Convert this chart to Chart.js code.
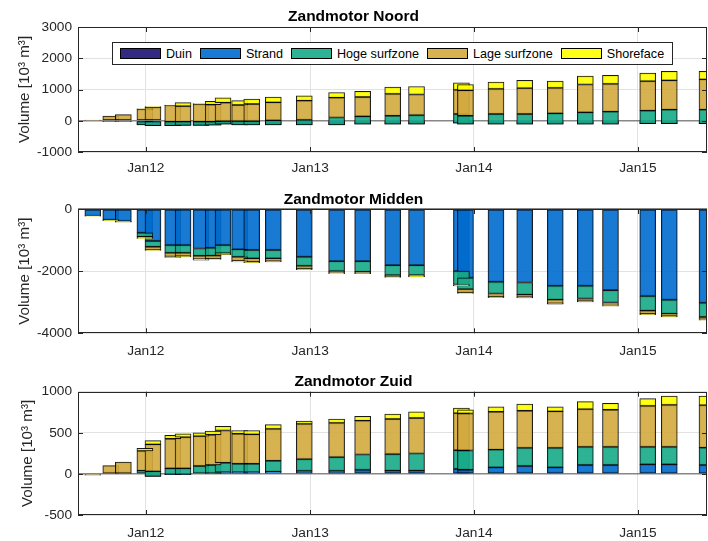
<!DOCTYPE html>
<html>
<head>
<meta charset="utf-8">
<script src="https://cdn.jsdelivr.net/npm/chart.js@4.4.1/dist/chart.umd.min.js"></script>
<style>
html,body{margin:0;padding:0;background:#fff;}
#wrap{position:relative;width:708px;height:541px;overflow:hidden;font-family:"Liberation Sans",Arial,Helvetica,sans-serif;}
.panel{position:absolute;left:0;}
#legend{position:absolute;left:112px;top:42px;width:561px;height:23px;box-sizing:border-box;border:1px solid #262626;background:#fff;display:flex;align-items:center;padding-left:7px;font-size:12.6px;color:#000;z-index:5;white-space:nowrap;}
.item{display:flex;align-items:center;margin-right:8px;}
.sw{width:41px;height:11px;box-sizing:border-box;border:1px solid #000;margin-right:5px;}
</style>
</head>
<body>
<div id="wrap">
  <canvas id="c1" class="panel" style="top:0" width="708" height="180"></canvas>
  <canvas id="c2" class="panel" style="top:180px" width="708" height="180"></canvas>
  <canvas id="c3" class="panel" style="top:360px" width="708" height="181"></canvas>
  <div id="legend"></div>
</div>
<script>
// ---------- data ----------
const seriesNames = ['Duin', 'Strand', 'Hoge surfzone', 'Lage surfzone', 'Shoreface'];

const surveyDates = ['2011-09-05','2011-10-15','2011-11-12','2011-12-30','2012-01-17','2012-03-01','2012-03-24',
  '2012-05-03','2012-05-30','2012-06-21','2012-07-28','2012-08-24','2012-10-11','2012-12-19','2013-03-01',
  '2013-04-28','2013-07-04','2013-08-26','2013-12-04','2013-12-13','2014-02-19','2014-04-24','2014-07-01',
  '2014-09-06','2014-11-01','2015-01-23','2015-03-12','2015-06-04'];

const tickDates = ['2012-01-01', '2013-01-01', '2014-01-01', '2015-01-01'];
const tickLabels = ['Jan12', 'Jan13', 'Jan14', 'Jan15'];
const xMinDate = '2011-08-03';
const xMaxDate = '2015-06-04';

// Zandmotor Noord
const noordDuin   = [0,0,0,0,0,0,0,0,0,0,0,0,0,0,0,0,0,0,0,0,0,0,0,0,0,0,0,0];
const noordStrand = [0,-20,-20,-130,-160,-160,-150,-150,-140,-110,-130,-130,-130,-130,-130,-110,-110,-110,-80,-110,-110,-110,-110,-110,-110,-90,-90,-90];
const noordHoge   = [0,20,20,130,160,130,120,120,110,100,120,120,140,160,235,250,270,290,295,270,325,325,345,378,400,413,445,445];
const noordLage   = [15,150,195,370,430,520,500,560,545,590,515,545,580,615,635,620,700,660,775,810,805,827,817,893,891,945,935,968];
const noordShore  = [0,0,0,10,25,15,110,20,105,150,140,155,170,150,165,180,215,255,225,190,215,248,216,269,271,258,291,258];

// Zandmotor Midden
const middenDuin   = [0,0,0,0,0,0,0,0,0,0,0,0,0,0,0,0,0,0,0,0,0,0,0,0,0,0,0,0];
const middenStrand = [-220,-350,-390,-770,-1030,-1160,-1160,-1270,-1250,-1160,-1300,-1320,-1320,-1540,-1680,-1680,-1810,-1810,-2000,-2215,-2345,-2365,-2475,-2475,-2615,-2805,-2925,-3020];
const middenHoge   = [0,-10,-10,-120,-185,-250,-250,-235,-250,-260,-240,-270,-270,-290,-320,-340,-320,-320,-430,-365,-375,-390,-440,-405,-395,-465,-440,-455];
const middenLage   = [-5,-5,-10,-50,-100,-120,-110,-110,-100,-50,-130,-110,-90,-90,-60,-45,-50,-40,-30,-110,-100,-80,-120,-85,-95,-100,-80,-80];
const middenShore  = [-5,-5,-10,-10,-20,-30,-20,-30,-25,-10,-30,-30,-20,-30,-25,-20,-25,-15,-15,-30,-30,-25,-30,-25,-25,-30,-30,-25];

// Zandmotor Zuid
const zuidDuin   = [0,0,0,0,0,0,0,0,0,0,0,0,0,0,0,0,0,0,0,0,0,0,0,0,0,0,0,0];
const zuidStrand = [0,0,0,0,-30,-5,-5,0,10,20,20,20,28,36,36,48,40,40,60,50,80,96,80,108,108,116,116,108];
const zuidHoge   = [0,0,10,40,60,73,73,96,98,116,104,104,132,144,168,188,200,208,228,235,216,220,236,220,220,212,212,212];
const zuidLage   = [-15,100,135,240,330,360,380,364,368,392,364,356,388,428,416,412,428,432,452,450,460,452,444,460,452,500,512,516];
const zuidShore  = [0,0,0,30,45,40,40,40,44,52,40,48,52,36,48,52,60,76,60,45,60,80,56,92,80,88,108,112];

// ---------- styling ----------
const fills = ['rgba(28,18,118,0.9)', 'rgba(0,108,206,0.9)', 'rgba(22,170,136,0.9)', 'rgba(210,170,62,0.9)', 'rgba(255,255,0,0.9)'];
const FONT = "'Liberation Sans', Arial, Helvetica, sans-serif";
Chart.defaults.font.family = FONT;

function dayNum(s) {
  const [y, m, d] = s.split('-').map(Number);
  return (Date.UTC(y, m - 1, d) - Date.UTC(2012, 0, 1)) / 86400000;
}
const tickDays = tickDates.map(dayNum);

// MATLAB-style cumulative stacking -> floating bars
function buildDatasets(seriesList) {
  const base = surveyDates.map(() => 0);
  return seriesList.map((vals, k) => ({
    label: seriesNames[k],
    data: vals.map((v, i) => {
      const s = base[i];
      base[i] += v;
      return { x: dayNum(surveyDates[i]), y: [s, base[i]] };
    }),
    backgroundColor: fills[k],
    borderColor: 'rgba(0,0,0,0.9)',
    borderWidth: 1,
    borderSkipped: false,
    barThickness: 16,
    order: seriesList.length - k,
    clip: 0
  }));
}

const boxPlugin = {
  id: 'box',
  afterDatasetsDraw(chart) {
    const { ctx, chartArea: a, scales: { x, y } } = chart;
    ctx.save();
    ctx.strokeStyle = '#262626';
    ctx.lineWidth = 1;
    ctx.beginPath();
    x.ticks.forEach(t => {
      const px = Math.round(x.getPixelForValue(t.value)) + 0.5;
      ctx.moveTo(px, a.bottom); ctx.lineTo(px, a.bottom - 5);
      ctx.moveTo(px, a.top); ctx.lineTo(px, a.top + 5);
    });
    y.ticks.forEach(t => {
      const py = Math.round(y.getPixelForValue(t.value)) + 0.5;
      ctx.moveTo(a.left, py); ctx.lineTo(a.left + 5, py);
      ctx.moveTo(a.right, py); ctx.lineTo(a.right - 5, py);
    });
    ctx.stroke();
    ctx.strokeRect(Math.round(a.left) + 0.5, Math.round(a.top) + 0.5,
                   Math.round(a.right - a.left) - 1, Math.round(a.bottom - a.top) - 1);
    ctx.restore();
  }
};

function makePanel(id, title, seriesList, yMin, yMax, yStep, tPad, xAxisH, xTickPad, yTitlePad) {
  return new Chart(document.getElementById(id), {
    type: 'bar',
    data: { datasets: buildDatasets(seriesList) },
    options: {
      responsive: false,
      animation: false,
      devicePixelRatio: 1,
      layout: { padding: { left: 0, right: 1, top: 0, bottom: 0 } },
      plugins: {
        legend: { display: false },
        tooltip: { enabled: false },
        title: {
          display: true, text: title, color: '#000',
          font: { size: 15.5, weight: 'bold', family: FONT },
          padding: { top: tPad[0], bottom: tPad[1] }
        }
      },
      scales: {
        x: {
          type: 'linear', stacked: true, offset: false,
          min: dayNum(xMinDate), max: dayNum(xMaxDate),
          afterBuildTicks: s => { s.ticks = tickDays.map(v => ({ value: v })); },
          afterFit: s => { s.height = xAxisH; },
          ticks: {
            autoSkip: false, maxRotation: 0, padding: xTickPad, color: '#262626',
            font: { size: 13.7, family: FONT },
            callback: v => tickLabels[tickDays.indexOf(v)]
          },
          grid: { color: '#e2e2e2', drawTicks: false, offset: false },
          border: { display: false }
        },
        y: {
          stacked: false, min: yMin, max: yMax,
          afterFit: s => { s.width = 78; },
          ticks: {
            stepSize: yStep, padding: 6, color: '#262626',
            font: { size: 13.7, family: FONT },
            callback: v => String(v)
          },
          grid: {
            drawTicks: false,
            color: c => (c.tick && c.tick.value === 0) ? 'rgba(70,70,70,0.65)' : '#e2e2e2',
            lineWidth: c => (c.tick && c.tick.value === 0) ? 1.5 : 1
          },
          border: { display: false },
          title: {
            display: true, text: 'Volume [10³ m³]', color: '#262626',
            font: { size: 15.2, family: FONT },
            padding: { top: yTitlePad, bottom: 0 }
          }
        }
      }
    },
    plugins: [boxPlugin]
  });
}

makePanel('c1', 'Zandmotor Noord', [noordDuin, noordStrand, noordHoge, noordLage, noordShore],
  -1000, 3000, 1000, [7.7, 0.7], 28, 8, 16);
makePanel('c2', 'Zandmotor Midden', [middenDuin, middenStrand, middenHoge, middenLage, middenShore],
  -4000, 0, 2000, [10.2, 0.2], 26.7, 9.5, 16);
makePanel('c3', 'Zandmotor Zuid', [zuidDuin, zuidStrand, zuidHoge, zuidLage, zuidShore],
  -500, 1000, 500, [12.7, 0.4], 26, 10, 19);

// legend (HTML, inside top axes)
const leg = document.getElementById('legend');
seriesNames.forEach((name, k) => {
  const it = document.createElement('div');
  it.className = 'item';
  const sw = document.createElement('div');
  sw.className = 'sw';
  sw.style.background = fills[k];
  const tx = document.createElement('span');
  tx.textContent = name;
  it.appendChild(sw); it.appendChild(tx);
  leg.appendChild(it);
});
</script>
</body>
</html>
